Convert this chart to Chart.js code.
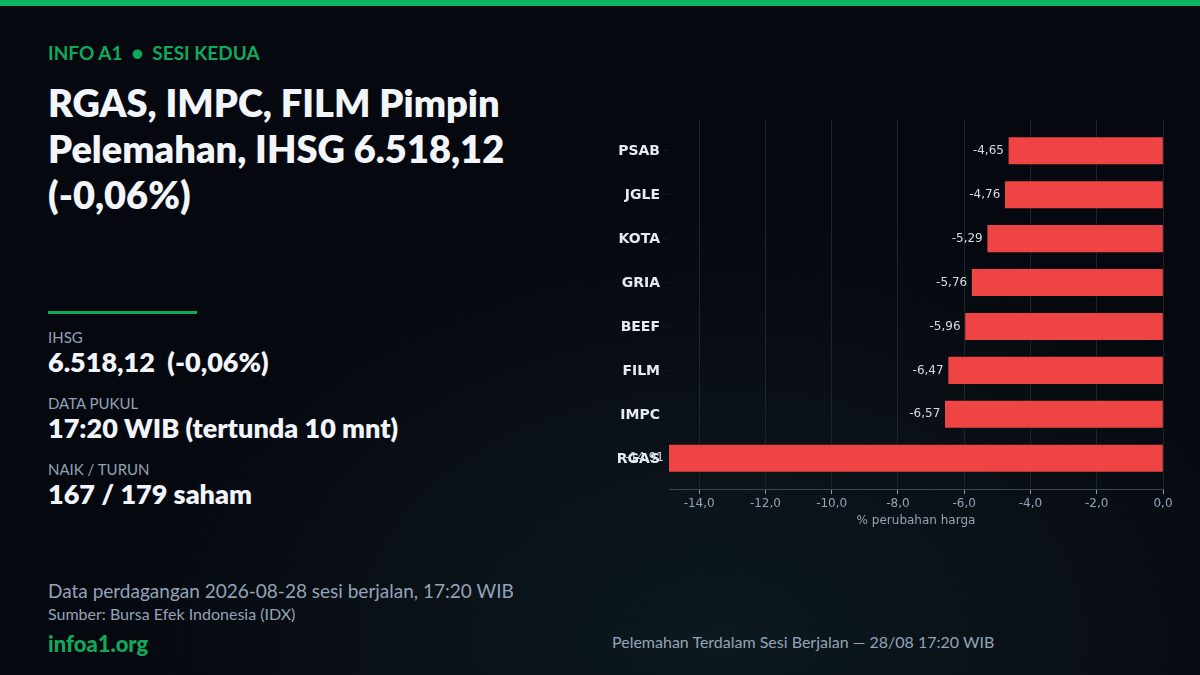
<!DOCTYPE html>
<html lang="id">
<head>
<meta charset="utf-8">
<title>RGAS, IMPC, FILM Pimpin Pelemahan</title>
<script src="https://cdn.jsdelivr.net/npm/chart.js@4"></script>
<style>
  html, body { margin: 0; padding: 0; }
  body {
    width: 1200px; height: 675px; overflow: hidden; position: relative;
    font-family: Lato, sans-serif;
    background: radial-gradient(ellipse 640px 440px at 720px 640px, #0c191e 0%, #090f15 60%, #05080f 100%), #05080f;
  }
  .topbar { position: absolute; left: 0; top: 0; width: 1200px; height: 6px; background: #0db561; }
  .t { position: absolute; white-space: nowrap; }
  .kicker { left: 48px; top: 41px; font-size: 19px; line-height: 24px; font-weight: 700; color: #10a95c; }
  .title { left: 48px; top: 79px; font-size: 38px; line-height: 46px; font-weight: 800; color: #f2f5fa; }
  .rule { position: absolute; left: 48px; top: 311px; width: 149px; height: 3px; background: #10a95c; }
  .lbl { left: 48px; font-size: 15px; line-height: 18px; color: #94a3b8; }
  .val { left: 48px; font-size: 27px; line-height: 32px; font-weight: 800; color: #f2f5fa; white-space: pre; }
  .note { left: 48px; top: 579px; font-size: 19px; line-height: 24px; color: #94a3b8; }
  .src { left: 48px; top: 604px; font-size: 16px; line-height: 19px; color: #94a3b8; }
  .site { left: 48px; top: 630px; font-size: 22px; line-height: 28px; font-weight: 900; color: #10a95c; }
  .cap { left: 612px; top: 632px; font-size: 16px; line-height: 19px; color: #94a3b8; }
  #wrap { position: absolute; left: 600px; top: 100px; width: 600px; height: 460px; }
</style>
</head>
<body>
<div class="topbar"></div>
<div class="t kicker">INFO A1 &nbsp;●&nbsp; SESI KEDUA</div>
<div class="t title">RGAS, IMPC, FILM Pimpin<br>Pelemahan, IHSG 6.518,12<br>(-0,06%)</div>
<div class="rule"></div>
<div class="t lbl" style="top:328px">IHSG</div>
<div class="t val" style="top:346px">6.518,12  (-0,06%)</div>
<div class="t lbl" style="top:394px">DATA PUKUL</div>
<div class="t val" style="top:412px">17:20 WIB (tertunda 10 mnt)</div>
<div class="t lbl" style="top:460px">NAIK / TURUN</div>
<div class="t val" style="top:478px">167 / 179 saham</div>
<div class="t note">Data perdagangan 2026-08-28 sesi berjalan, 17:20 WIB</div>
<div class="t src">Sumber: Bursa Efek Indonesia (IDX)</div>
<div class="t site">infoa1.org</div>
<div class="t cap">Pelemahan Terdalam Sesi Berjalan — 28/08 17:20 WIB</div>
<div id="wrap"><canvas id="chart" width="600" height="460"></canvas></div>
<script>
// Data, urutan dari bawah ke atas
const tickers = ['RGAS', 'IMPC', 'FILM', 'BEEF', 'GRIA', 'KOTA', 'JGLE', 'PSAB'];
const changes = [-14.91, -6.57, -6.47, -5.96, -5.76, -5.29, -4.76, -4.65];
const xTicks = [-14, -12, -10, -8, -6, -4, -2, 0];

const fmt = (v, d) => v.toFixed(d).replace('.', ',');

// Label nilai di sebelah kiri batang
const valueLabels = {
    id: 'valueLabels',
    afterDatasetsDraw(chart) {
        const c = chart.ctx;
        c.save();
        c.font = '12px "DejaVu Sans"';
        c.fillStyle = '#d5dbe3';
        c.textAlign = 'right';
        c.textBaseline = 'middle';
        chart.getDatasetMeta(0).data.forEach((bar, i) => {
            c.fillText(fmt(changes[i], 2), bar.x - 5, bar.y);
        });
        c.restore();
    }
};

new Chart(document.getElementById('chart').getContext('2d'), {
    type: 'bar',
    plugins: [valueLabels],
    data: {
        datasets: [{
            data: changes.map((v, i) => ({ x: v, y: i })),
            backgroundColor: '#ef4444',
            barThickness: 26.4
        }]
    },
    options: {
        indexAxis: 'y',
        responsive: false,
        animation: false,
        devicePixelRatio: 1,
        layout: { padding: { top: 20, right: 37, left: 0, bottom: 32 } },
        plugins: { legend: { display: false }, tooltip: { enabled: false } },
        scales: {
            x: {
                type: 'linear',
                min: -14.91,
                max: 0,
                afterBuildTicks: s => { s.ticks = xTicks.map(value => ({ value })); },
                afterFit: s => { s.height = 39; },
                border: { color: '#3a4552', width: 1 },
                grid: { color: '#1d242c', lineWidth: 1, tickColor: '#8d99a8', tickLength: 5 },
                ticks: {
                    color: '#94a3b8',
                    font: { family: '"DejaVu Sans"', size: 12 },
                    padding: 3,
                    maxRotation: 0,
                    autoSkip: false,
                    callback: v => fmt(v, 1)
                },
                title: {
                    display: true,
                    text: '% perubahan harga',
                    color: '#94a3b8',
                    font: { family: '"DejaVu Sans"', size: 12 },
                    padding: { top: 4, bottom: 0 }
                }
            },
            y: {
                type: 'linear',
                offset: false,
                min: -0.7,
                max: 7.7,
                afterBuildTicks: s => { s.ticks = tickers.map((_, i) => ({ value: i })); },
                afterFit: s => { s.width = 69; },
                border: { display: false },
                grid: { offset: false, drawOnChartArea: false, tickColor: '#11171e', tickLength: 6 },
                ticks: {
                    color: '#e6ebf2',
                    font: { family: '"DejaVu Sans"', size: 14, weight: 'bold' },
                    padding: 3,
                    labelOffset: 1,
                    autoSkip: false,
                    callback: v => tickers[v]
                }
            }
        }
    }
});
</script>
</body>
</html>
